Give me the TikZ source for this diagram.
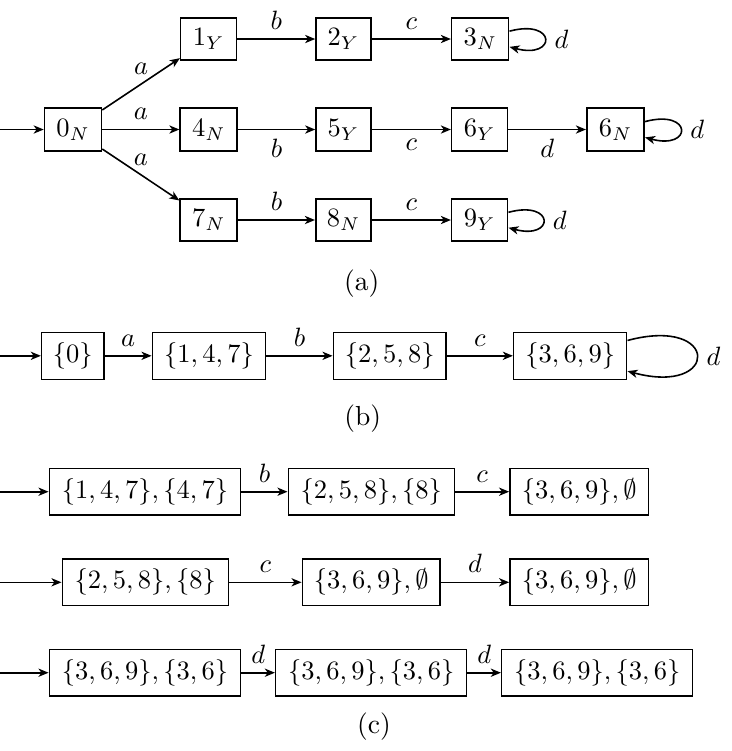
\documentclass[tikz,border=0pt]{standalone}
\usetikzlibrary{arrows.meta}
\begin{document}
\begin{tikzpicture}[x=0.3774pt,y=-0.3774pt,
  line width=0.6pt,
  every node/.style={font=\fontsize{10.4}{12.5}\selectfont},
  stbox/.style 2 args={draw, rectangle, inner sep=0pt, minimum width=#1*0.3774pt, minimum height=#2*0.3774pt},
  arr/.style={-{Stealth[length=3.8pt,width=3.1pt,inset=1.1pt]}},
  every loop/.style={}]
\useasboundingbox (0,0) rectangle (732,751);
% ---------- (a)
\node[stbox={57}{42.5}] (n0) at (73,129.5) {$0_N$};
\node[stbox={56}{42.5}] (n1) at (208.7,39) {$1_Y$};
\node[stbox={55}{42.5}] (n2) at (343.5,39) {$2_Y$};
\node[stbox={57}{42.5}] (n3) at (480.2,39) {$3_N$};
\node[stbox={57}{42.5}] (n4) at (208.7,129.5) {$4_N$};
\node[stbox={55}{42.5}] (n5) at (343.5,129.5) {$5_Y$};
\node[stbox={56}{42.5}] (n6) at (479.7,129.5) {$6_Y$};
\node[stbox={57.5}{42.5}] (n6b) at (615.5,129.5) {$6_N$};
\node[stbox={57}{42.5}] (n7) at (208.7,220) {$7_N$};
\node[stbox={55.5}{42.5}] (n8) at (343.5,220) {$8_N$};
\node[stbox={56}{42.5}] (n9) at (479.7,220) {$9_Y$};
\coordinate (s0) at (0,129.5);
\path[arr] (s0) edge (n0)
  (n0) edge node[above] {$a$} (n1)
  (n0) edge node[above] {$a$} (n4)
  (n0) edge node[above] {$a$} (n7)
  (n1) edge node[above] {$b$} (n2)
  (n2) edge node[above] {$c$} (n3)
  (n4) edge node[below] {$b$} (n5)
  (n5) edge node[below] {$c$} (n6)
  (n6) edge node[below] {$d$} (n6b)
  (n7) edge node[above] {$b$} (n8)
  (n8) edge node[above] {$c$} (n9)
  (n3) edge[loop right] node[right] {$d$} ()
  (n6b) edge[loop right] node[right] {$d$} ()
  (n9) edge[loop right] node[right] {$d$} ();
\node (capa) at (361.7,284) {(a)};
% ---------- (b)
\node[stbox={62.3}{47}] (b0) at (72.8,355.8) {$\{0\}$};
\node[stbox={113.3}{47}] (b1) at (209,355.8) {$\{1,4,7\}$};
\node[stbox={112.7}{47}] (b2) at (389.7,355.8) {$\{2,5,8\}$};
\node[stbox={113}{47}] (b3) at (570.2,355.8) {$\{3,6,9\}$};
\coordinate (sb) at (0,355.8);
\path[arr] (sb) edge (b0)
  (b0) edge node[above] {$a$} (b1)
  (b1) edge node[above] {$b$} (b2)
  (b2) edge node[above] {$c$} (b3)
  (b3) edge[loop right] node[right] {$d$} ();
\node (capb) at (362.7,419) {(b)};
% ---------- (c)
\node[stbox={191.3}{46.7}] (c11) at (145,491.7) {$\{1,4,7\},\{4,7\}$};
\node[stbox={166}{46.7}] (c12) at (371.3,491.7) {$\{2,5,8\},\{8\}$};
\node[stbox={138.7}{46.7}] (c13) at (579.3,491.7) {$\{3,6,9\},\emptyset$};
\node[stbox={166}{46.7}] (c21) at (145.3,582.3) {$\{2,5,8\},\{8\}$};
\node[stbox={137.7}{46.7}] (c22) at (371.2,582.3) {$\{3,6,9\},\emptyset$};
\node[stbox={138.7}{46.7}] (c23) at (579.3,582.3) {$\{3,6,9\},\emptyset$};
\node[stbox={191.3}{46.7}] (c31) at (145,672.7) {$\{3,6,9\},\{3,6\}$};
\node[stbox={191}{46.7}] (c32) at (371.2,672.7) {$\{3,6,9\},\{3,6\}$};
\node[stbox={191}{46.7}] (c33) at (597.2,672.7) {$\{3,6,9\},\{3,6\}$};
\coordinate (sc1) at (0,491.7);
\coordinate (sc2) at (0,582.3);
\coordinate (sc3) at (0,672.7);
\path[arr] (sc1) edge (c11)
  (c11) edge node[above] {$b$} (c12)
  (c12) edge node[above] {$c$} (c13)
  (sc2) edge (c21)
  (c21) edge node[above] {$c$} (c22)
  (c22) edge node[above] {$d$} (c23)
  (sc3) edge (c31)
  (c31) edge node[above] {$d$} (c32)
  (c32) edge node[above] {$d$} (c33);
\node (capc) at (374,727) {(c)};
\end{tikzpicture}
\end{document}
